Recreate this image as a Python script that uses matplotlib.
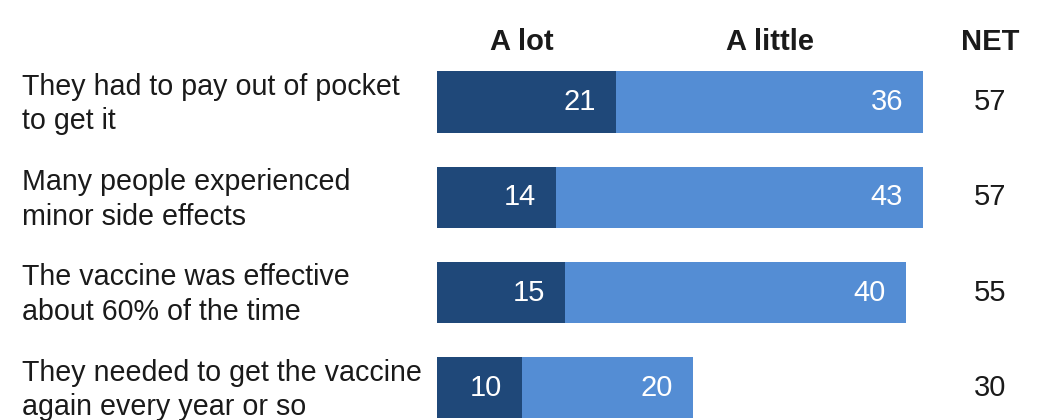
import matplotlib
matplotlib.use("Agg")
import matplotlib.pyplot as plt

categories = [
    "They had to pay out of pocket\nto get it",
    "Many people experienced\nminor side effects",
    "The vaccine was effective\nabout 60% of the time",
    "They needed to get the vaccine\nagain every year or so",
]
a_lot = [21, 14, 15, 10]
a_little = [36, 43, 40, 20]
net = [57, 57, 55, 30]
headers = ["A lot", "A little", "NET"]

DARK = "#1f4879"
LIGHT = "#548dd4"
plt.rcParams["font.family"] = ["Liberation Sans", "DejaVu Sans"]

W, H, DPI = 1038, 420, 100
fig = plt.figure(figsize=(W / DPI, H / DPI), dpi=DPI)
ax = fig.add_axes([0, 0, 1, 1])

# pixel layout -> data scale
x0_px, scale = 437, 486 / 57.0
row0_px, row_step = 102, 95.33
ax.set_xlim(-x0_px / scale, (W - x0_px) / scale)
ax.set_ylim((H - row0_px) / row_step, -row0_px / row_step)
ax.axis("off")

ys = list(range(len(categories)))
bh = 0.64
ax.barh(ys, a_lot, height=bh, color=DARK, edgecolor="none")
ax.barh(ys, a_little, left=a_lot, height=bh, color=LIGHT, edgecolor="none")

pad = 20 / scale
fs = 21
for y, cat, d, l, n in zip(ys, categories, a_lot, a_little, net):
    ax.text((22 - x0_px) / scale, y + 0.02, cat, ha="left", va="center",
            fontsize=20.6, color="#1a1a1a", linespacing=1.3)
    ax.text(d - pad, y, str(d), ha="right", va="center", fontsize=fs, color="white")
    ax.text(d + l - pad, y, str(l), ha="right", va="center", fontsize=fs, color="white")
    ax.text((990 - x0_px) / scale, y, str(n), ha="center", va="center",
            fontsize=fs, color="#1a1a1a")

hy = (42 - row0_px) / row_step
ax.text(a_lot[0] / 2 - 0.5, hy, headers[0], ha="center", va="center",
        fontsize=fs, fontweight="bold", color="#1a1a1a")
ax.text(a_lot[0] + a_little[0] / 2, hy, headers[1], ha="center", va="center",
        fontsize=fs, fontweight="bold", color="#1a1a1a")
ax.text((990 - x0_px) / scale, hy, headers[2], ha="center", va="center",
        fontsize=fs, fontweight="bold", color="#1a1a1a")

fig.savefig("out.png", dpi=DPI, facecolor="white")
